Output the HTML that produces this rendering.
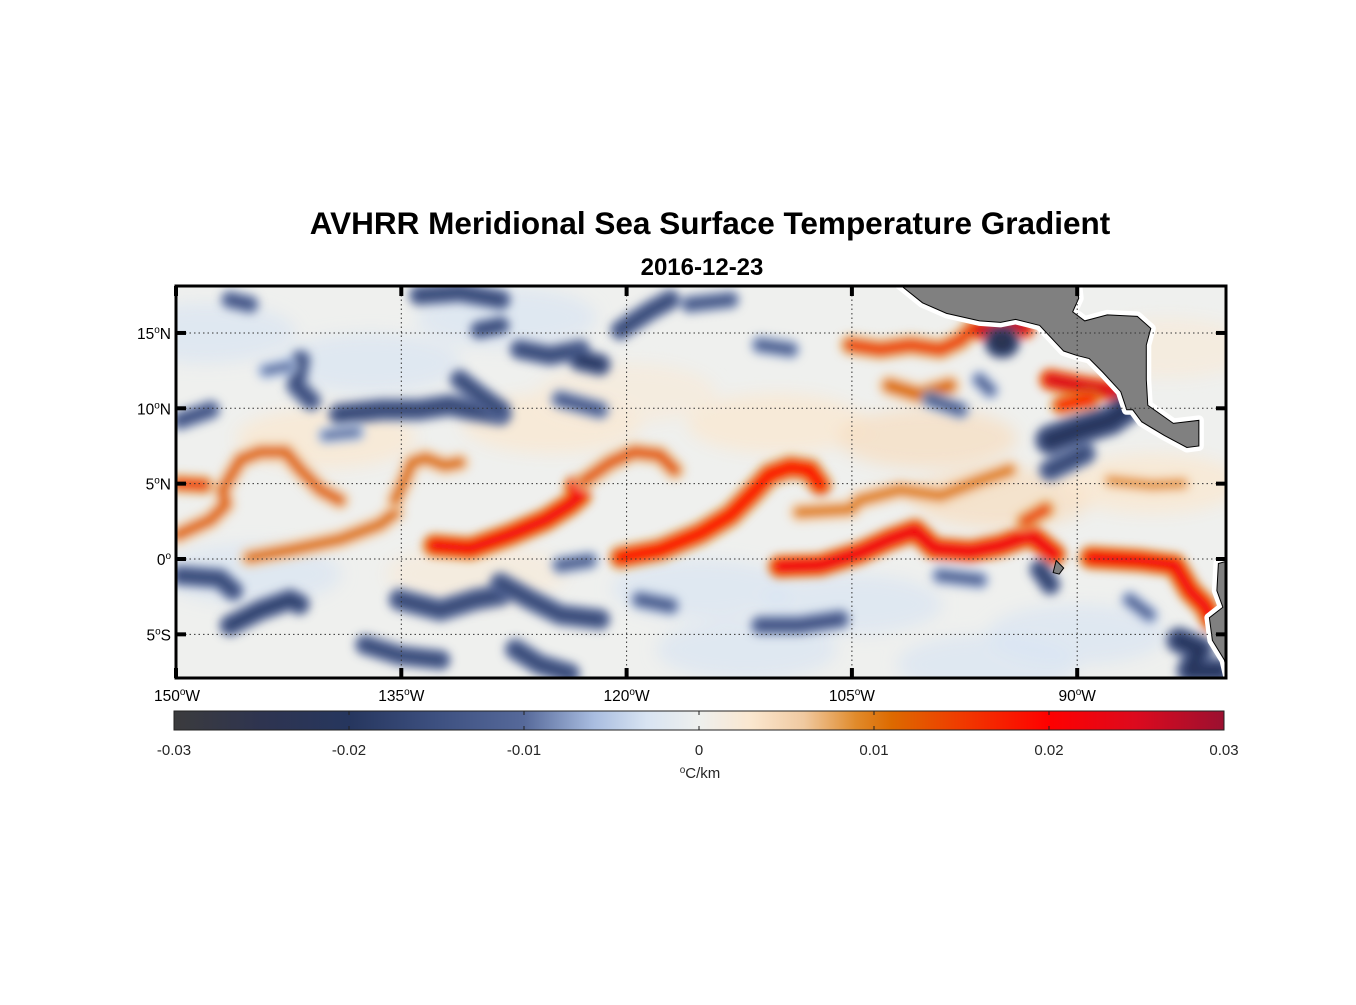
<!DOCTYPE html>
<html><head><meta charset="utf-8">
<style>
html,body{margin:0;padding:0;background:#fff;}
body{width:1356px;height:1000px;overflow:hidden;font-family:"Liberation Sans",sans-serif;}
</style></head>
<body>
<svg id="chart" width="1356" height="1000" xmlns="http://www.w3.org/2000/svg" font-family="Liberation Sans, sans-serif">
<defs>
<filter id="blur" x="-20%" y="-50%" width="140%" height="200%"><feGaussianBlur stdDeviation="4.2"/></filter>
<filter id="blur2" x="-20%" y="-50%" width="140%" height="200%"><feGaussianBlur stdDeviation="8"/></filter>
<clipPath id="mapclip"><rect x="176" y="286" width="1050" height="392"/></clipPath>
<linearGradient id="cbgrad" x1="0" x2="1" y1="0" y2="0"></linearGradient>
</defs>
<text x="710" y="234" text-anchor="middle" font-size="31.5" font-weight="bold">AVHRR Meridional Sea Surface Temperature Gradient</text>
<text x="702" y="275" text-anchor="middle" font-size="24" font-weight="bold">2016-12-23</text>
<g id="map" clip-path="url(#mapclip)">
<rect x="176" y="286" width="1050" height="392" fill="#eff0ee"/>
<g id="soft" filter="url(#blur2)"></g>
<g id="features" filter="url(#blur)"></g>
<g id="land"></g>
</g>
<g id="grid"></g>
<rect x="176" y="286" width="1050" height="392" fill="none" stroke="#000" stroke-width="3"/>
<g id="axes"></g>
<g id="colorbar"></g>
</svg>
<script>
const NS='http://www.w3.org/2000/svg';
// axis ranges
const lonTicks=[-150,-135,-120,-105,-90];
const lonTickLabels=['150','135','120','105','90'];
const latTicks=[15,10,5,0,-5];
const latTickLabels=['15','10','5','0','5'];
const latTickHemi=['N','N','N','','S'];
const cbTicks=[-0.03,-0.02,-0.01,0,0.01,0.02,0.03];
const cbTickLabels=['-0.03','-0.02','-0.01','0','0.01','0.02','0.03'];
// colormap stops
const cmapVals=[-0.03,-0.025,-0.02,-0.015,-0.01,-0.006,-0.003,0,0.003,0.006,0.009,0.011,0.015,0.02,0.025,0.03];
const cmapCols=['#3b3b3d','#2e3450','#26365e','#3d5080','#56699a','#a9bde0','#d8e4f2','#eef0ee','#fbe7cf','#f0c9a0','#e08a2a','#dd6a00','#f03a00','#ff0000','#dc0a1e','#9b1030'];
// features: lon arrays, lat arrays, gradient values
const featLon=[
[-149.9,-147.7,-146.7,-146.9,-145.7,-144.4,-142.7,-141.7,-140.4,-139.1],
[-149.9,-148.1],
[-145.1,-142.4,-139.1,-136.4,-135.4],
[-135.4,-134.8,-134.3,-133.4,-132.1,-131.1],
[-132.8,-130.4,-127.8,-125.4,-123.8,-123.1,-123.4],
[-122.8,-121.1,-119.5,-117.8,-116.8],
[-120.4,-117.8,-115.1,-113.1,-111.8,-110.5,-109.1,-107.8,-107.1],
[-109.8,-107.1,-104.5,-102.5,-100.8,-99.5,-97.1,-95.1,-93.1,-91.5],
[-93.5,-92.1],
[-108.5,-105.1,-104.5,-101.8,-99.1,-96.5,-94.5],
[-105.1,-103.1,-101.1,-99.1,-97.8,-96.8],
[-96.5,-94.2,-93.5],
[-102.5,-100.5,-98.5],
[-91.8,-89.8,-87.8,-86.5],
[-91.1,-89.1],
[-89.1,-85.8,-83.5,-82.5,-81.5,-81.0],
[-87.8,-85.0,-83.0],
[-95.1,-94.9],
[-91.8,-89.8,-87.8,-86.8],
[-91.8,-89.5],
[-146.4,-144.4,-142.4,-141.8],
[-135.1,-132.4,-130.1,-128.4],
[-149.7,-147.1,-146.2],
[-137.4,-135.1,-132.4],
[-128.4,-126.4,-124.4,-121.8],
[-127.4,-125.8,-123.8],
[-124.4,-122.5],
[-111.1,-108.5,-105.8],
[-119.1,-117.1],
[-92.5,-91.8],
[-83.2,-81.8,-82.5,-80.5],
[-99.1,-96.5],
[-86.5,-85.2],
[-139.1,-136.4,-133.8,-131.8,-130.4,-128.4],
[-131.1,-129.8,-128.4],
[-141.7,-142.0,-141.0],
[-149.7,-147.7],
[-127.1,-125.1,-123.1],
[-128.4,-129.8],
[-123.1,-121.8],
[-133.8,-131.1,-128.4],
[-120.4,-118.4,-117.1],
[-146.4,-145.1],
[-124.4,-121.8],
[-115.8,-113.1],
[-111.1,-109.1],
[-99.8,-97.8],
[-96.5,-95.8],
[-140.0,-138.0],
[-144.0,-142.5]
];
const featLat=[
[1.6,2.6,3.6,4.6,6.6,7.1,7.1,5.9,4.6,3.9],
[5.0,4.9],
[0.1,0.6,1.3,2.3,3.1],
[3.9,5.2,6.4,6.7,6.2,6.4],
[0.9,0.7,1.6,2.6,3.6,4.2,4.8],
[5.2,6.4,7.1,6.9,5.9],
[0.1,0.6,1.7,2.9,4.2,5.6,6.1,5.9,4.9],
[-0.5,-0.4,0.4,1.3,1.9,0.7,0.5,0.9,1.6,0.3],
[2.5,3.3],
[3.1,3.3,3.9,4.6,4.2,5.2,5.9],
[14.2,13.9,14.2,13.9,14.5,15.5],
[15.2,15.6,15.3],
[11.5,10.9,11.5],
[11.9,11.5,11.2,10.9],
[10.2,10.6],
[0.1,-0.1,-0.4,-2.1,-3.1,-4.1],
[5.2,4.9,5.0],
[14.4,14.4],
[7.9,8.6,9.2,9.9],
[5.9,7.0],
[-4.4,-3.4,-2.7,-3.0],
[-2.7,-3.4,-2.7,-2.4],
[-1.1,-1.3,-2.1],
[-5.7,-6.4,-6.7],
[-1.6,-2.7,-3.7,-4.0],
[-6.0,-7.0,-7.6],
[-0.4,-0.1],
[-4.4,-4.4,-4.0],
[-2.7,-3.1],
[-0.7,-1.7],
[-5.4,-6.0,-7.4,-7.4],
[-1.1,-1.4],
[-2.7,-3.7],
[9.6,9.9,9.9,10.2,9.9,9.6],
[11.9,10.9,9.9],
[13.2,11.5,10.5],
[9.2,9.9],
[13.9,13.5,13.9],
[15.5,15.2],
[13.2,12.9],
[17.5,17.7,17.2],
[15.2,16.5,17.2],
[17.2,16.9],
[10.6,9.9],
[16.9,17.2],
[14.2,13.9],
[10.6,9.9],
[11.9,11.2],
[8.2,8.4],
[12.5,12.8]
];
const featVal=[0.012,0.016,0.011,0.011,0.022,0.013,0.02,0.023,0.015,0.01,0.015,0.028,0.011,0.026,0.02,0.022,0.009,-0.03,-0.025,-0.02,-0.022,-0.02,-0.02,-0.02,-0.02,-0.02,-0.015,-0.018,-0.016,-0.022,-0.025,-0.014,-0.014,-0.02,-0.02,-0.019,-0.018,-0.02,-0.02,-0.024,-0.02,-0.02,-0.018,-0.016,-0.017,-0.015,-0.015,-0.014,-0.012,-0.012];
const featWidth=[11,10,11,11,14,11,14,14,10,12,12,12,14,13,10,14,10,24,22,14,13,14,12,12,13,13,10,11,10,12,18,10,9,14,12,12,11,12,10,14,12,12,10,11,10,10,10,9,9,9];
// soft background patches
const patchLon=[-140,-125,-110,-100,-95,-85,-145,-130,-115,-105,-90,-137,-120,-112,-96,-84,-148,-128];
const patchLat=[8,9,9,8,4,5,-1,-1,-2,-3,-5,13,11,-6,-7,14,15,16];
const patchVal=[0.003,0.003,0.003,0.004,0.004,0.003,-0.003,0.002,-0.003,-0.003,-0.003,-0.003,0.002,-0.003,-0.003,0.002,-0.003,-0.003];
// land (lon,lat pairs)
const landMexLon=[-101.8,-90.0,-89.9,-90.3,-89.5,-88.0,-86.0,-85.1,-85.4,-85.4,-85.3,-83.6,-81.9,-81.9,-82.7,-84.2,-85.7,-86.3,-86.7,-87.1,-88.3,-89.2,-90.0,-90.9,-92.5,-94.1,-95.1,-96.5,-98.7,-100.3,-101.8];
const landMexLat=[18.2,18.2,17.3,16.4,15.8,16.2,16.1,15.3,14.2,11.9,10.2,9.0,9.2,7.5,7.4,8.2,9.1,9.9,9.9,11.1,12.4,13.3,13.5,13.8,15.5,15.9,15.7,15.8,16.3,17.0,18.2];
const landSamLon=[-79.9,-80.6,-80.7,-80.3,-81.2,-81.0,-80.2,-79.9];
const landSamLat=[-0.1,-0.3,-2.1,-3.2,-3.9,-5.4,-6.7,-8.0];

const X=lon=>176+(lon+150)*15.02;
const Y=lat=>559-lat*15.07;
function hex2rgb(h){return [1,3,5].map(i=>parseInt(h.substr(i,2),16));}
function cmap(v){
  if(v<=cmapVals[0])return cmapCols[0];
  for(let i=1;i<cmapVals.length;i++){
    if(v<=cmapVals[i]){
      const t=(v-cmapVals[i-1])/(cmapVals[i]-cmapVals[i-1]);
      const a=hex2rgb(cmapCols[i-1]),b=hex2rgb(cmapCols[i]);
      return 'rgb('+a.map((c,k)=>Math.round(c+(b[k]-c)*t)).join(',')+')';
    }
  }
  return cmapCols[cmapCols.length-1];
}
function el(tag,attrs,parent){const e=document.createElementNS(NS,tag);for(const k in attrs)e.setAttribute(k,attrs[k]);parent.appendChild(e);return e;}

const soft=document.getElementById('soft');
patchLon.forEach((lo,i)=>{
  const e=el('ellipse',{cx:X(lo),cy:Y(patchLat[i]),rx:90,ry:30,fill:cmap(patchVal[i]),opacity:0.7},soft);
  
  
});
const fg=document.getElementById('features');
featLon.forEach((lons,i)=>{
  const pts=lons.map((lo,k)=>X(lo)+','+Y(featLat[i][k])).join(' ');
  const v=featVal[i],w=featWidth[i];
  const neg=v<0;
  const g=el('g',{},fg);
  
  
  el('polyline',{points:pts,fill:'none',stroke:cmap(v*0.5),'stroke-width':w+10,'stroke-linecap':'round','stroke-linejoin':'round',opacity:0.8},g);
  el('polyline',{points:pts,fill:'none',stroke:cmap(v*(neg?0.7:0.85)),'stroke-width':w,'stroke-linecap':'round','stroke-linejoin':'round'},g);
  el('polyline',{points:pts,fill:'none',stroke:cmap(v*(neg?0.85:1)),'stroke-width':Math.max(3,w*0.45),'stroke-linecap':'round','stroke-linejoin':'round'},g);
});
const land=document.getElementById('land');
function drawLand(lons,lats,name){
  const pts=lons.map((lo,k)=>X(lo)+','+Y(lats[k])).join(' ');
  el('polygon',{points:pts,fill:'#fff',stroke:'#fff','stroke-width':10,'stroke-linejoin':'round'},land);
  const p=el('polygon',{points:pts,fill:'#808080',stroke:'#000','stroke-width':1},land);
  
  
}
drawLand(landMexLon,landMexLat,'land-central-america');
drawLand(landSamLon.concat([-79,-79]),landSamLat.concat([-8,0]),'land-south-america');
const gal=el('polygon',{points:[[-91.4,-0.1],[-90.9,-0.6],[-91.2,-1.0],[-91.6,-0.9]].map(p=>X(p[0])+','+Y(p[1])).join(' '),fill:'#808080',stroke:'#000','stroke-width':1},land);



const grid=document.getElementById('grid'),axes=document.getElementById('axes');
lonTicks.forEach((lo,i)=>{
  const x=X(lo);
  if(i>0){const l=el('line',{x1:x,x2:x,y1:286,y2:678,stroke:'#333','stroke-width':1,'stroke-dasharray':'1.5,3'},grid);
  }
  el('line',{x1:x,x2:x,y1:286,y2:296,stroke:'#000','stroke-width':4},axes);
  el('line',{x1:x,x2:x,y1:668,y2:678,stroke:'#000','stroke-width':4},axes);
  const t=el('text',{x:x+(i==0?1:0),y:701,'text-anchor':'middle','font-size':15.5},axes);
  
  t.innerHTML=lonTickLabels[i]+'<tspan dy="-6" font-size="10">o</tspan><tspan dy="6">W</tspan>';
});
latTicks.forEach((la,i)=>{
  const y=Y(la);
  const l=el('line',{x1:176,x2:1226,y1:y,y2:y,stroke:'#333','stroke-width':1,'stroke-dasharray':'1.5,3'},grid);
  
  el('line',{x1:176,x2:186,y1:y,y2:y,stroke:'#000','stroke-width':4},axes);
  el('line',{x1:1216,x2:1226,y1:y,y2:y,stroke:'#000','stroke-width':4},axes);
  const t=el('text',{x:171,y:y+6,'text-anchor':'end','font-size':15.5},axes);
  
  t.innerHTML=latTickLabels[i]+'<tspan dy="-6" font-size="10">o</tspan><tspan dy="6">'+latTickHemi[i]+'</tspan>';
});
const grad=document.getElementById('cbgrad');
cmapVals.forEach((v,i)=>el('stop',{offset:((v+0.03)/0.06*100)+'%','stop-color':cmapCols[i]},grad));
const cb=document.getElementById('colorbar');
const cbx=v=>174+(v+0.03)/0.06*1050;
const cbr=el('rect',{x:174,y:711,width:1050,height:19,fill:'url(#cbgrad)',stroke:'#222','stroke-width':1},cb);

cbTicks.forEach((v,i)=>{
  const x=cbx(v);
  el('line',{x1:x,x2:x,y1:711,y2:715,stroke:'#222','stroke-width':1},cb);
  el('line',{x1:x,x2:x,y1:726,y2:730,stroke:'#222','stroke-width':1},cb);
  const t=el('text',{x:x,y:755,'text-anchor':'middle','font-size':15,fill:'#262626'},cb);
  
  t.textContent=cbTickLabels[i];
});
const ct=el('text',{x:700,y:778,'text-anchor':'middle','font-size':15,fill:'#262626'},cb);

ct.innerHTML='<tspan dy="-5" font-size="10">o</tspan><tspan dy="5">C/km</tspan>';
</script>
</body></html>
